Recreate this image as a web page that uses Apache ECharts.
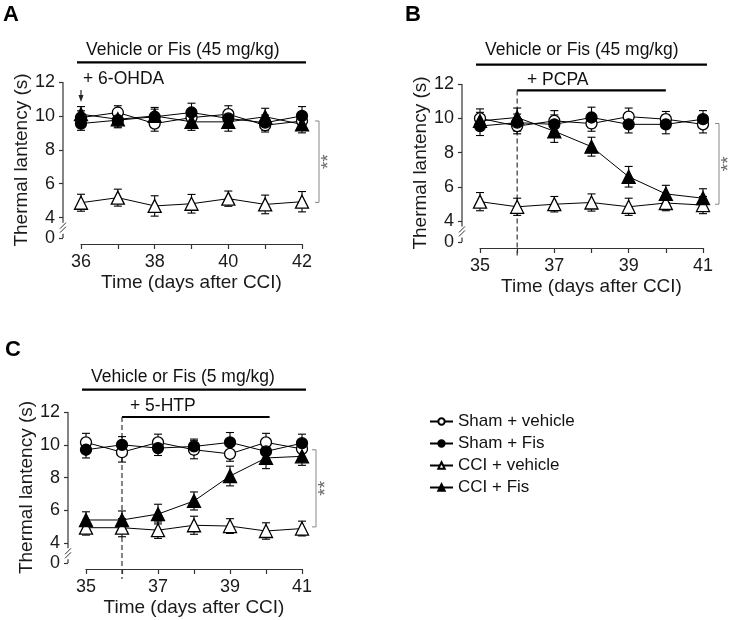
<!DOCTYPE html>
<html><head><meta charset="utf-8">
<script src="https://cdn.jsdelivr.net/npm/echarts@6/dist/echarts.min.js"></script>
<style>html,body{margin:0;padding:0;background:#fff}#c{width:735px;height:620px}</style>
</head><body><div id="c"></div>
<script>
// ---------- DATA ----------
const groupNames = ['Sham + vehicle', 'Sham + Fis', 'CCI + vehicle', 'CCI + Fis'];
const daysA = [36, 37, 38, 39, 40, 41, 42];
const daysBC = [35, 36, 37, 38, 39, 40, 41];
const xLabelsA = [36, 38, 40, 42];
const xLabelsBC = [35, 37, 39, 41];
const yTickLabels = [0, 4, 6, 8, 10, 12];

// Panel A
const shamVehA = [9.9, 10.2, 9.55, 9.9, 10.1, 9.45, 9.7];
const shamFisA = [9.55, 9.75, 9.95, 10.2, 9.85, 9.6, 10.0];
const cciVehA  = [4.88, 5.18, 4.69, 4.82, 5.12, 4.78, 4.94];
const cciFisA  = [10.1, 9.8, 10.0, 9.65, 9.65, 9.95, 9.5];
const shamVehAErr = [0.4, 0.4, 0.45, 0.45, 0.5, 0.4, 0.45];
const shamFisAErr = [0.4, 0.45, 0.45, 0.55, 0.5, 0.45, 0.55];
const cciVehAErr  = [0.5, 0.5, 0.6, 0.55, 0.45, 0.55, 0.6];
const cciFisAErr  = [0.45, 0.45, 0.5, 0.5, 0.55, 0.5, 0.5];

// Panel B
const shamVehB = [10.0, 9.55, 9.85, 9.7, 10.1, 9.95, 9.65];
const shamFisB = [9.55, 9.75, 9.65, 10.05, 9.65, 9.65, 9.95];
const cciVehB  = [5.15, 4.85, 5.0, 5.1, 4.85, 5.07, 4.95];
const cciFisB  = [9.85, 10.05, 9.25, 8.35, 6.6, 5.6, 5.35];
const shamVehBErr = [0.55, 0.45, 0.6, 0.45, 0.5, 0.45, 0.5];
const shamFisBErr = [0.55, 0.5, 0.55, 0.6, 0.5, 0.55, 0.5];
const cciVehBErr  = [0.53, 0.5, 0.45, 0.5, 0.5, 0.45, 0.5];
const cciFisBErr  = [0.5, 0.55, 0.65, 0.55, 0.6, 0.5, 0.55];

// Panel C
const shamVehC = [10.15, 9.55, 10.15, 9.7, 9.45, 10.15, 9.75];
const shamFisC = [9.7, 10.0, 9.8, 9.9, 10.15, 9.6, 10.1];
const cciVehC  = [4.95, 4.95, 4.8, 5.1, 5.05, 4.75, 4.9];
const cciFisC  = [5.42, 5.42, 5.78, 6.58, 8.1, 9.2, 9.3];
const shamVehCErr = [0.55, 0.6, 0.5, 0.55, 0.45, 0.55, 0.55];
const shamFisCErr = [0.5, 0.5, 0.45, 0.45, 0.6, 0.5, 0.55];
const cciVehCErr  = [0.45, 0.55, 0.5, 0.55, 0.45, 0.5, 0.45];
const cciFisCErr  = [0.5, 0.55, 0.6, 0.55, 0.6, 0.65, 0.55];

// Annotation values (data units)
const bracketA = [9.7, 4.9];
const bracketB = [9.7, 5.0];
const bracketC = [9.7, 5.0];
const treatStartDay = 36;
const treatEndB = 40;
const treatEndC = 40.1;

// ---------- STYLE / LAYOUT ----------
const FONT = '"Liberation Sans", Arial, Helvetica, sans-serif';
const Y_ZERO = 2.8; // axis position where the broken scale shows "0"
const Y_OFF = 18;
const panels = [
  { days: daysA, xLabels: xLabelsA, grid: { left: 81, right: 433, top: 82, bottom: 382 }, nameGap: 31,
    series: [[shamVehA, shamVehAErr], [shamFisA, shamFisAErr], [cciVehA, cciVehAErr], [cciFisA, cciFisAErr]] },
  { days: daysBC, xLabels: xLabelsBC, grid: { left: 480, right: 32, top: 84, bottom: 378 }, nameGap: 28,
    series: [[shamVehB, shamVehBErr], [shamFisB, shamFisBErr], [cciVehB, cciVehBErr], [cciFisB, cciFisBErr]] },
  { days: daysBC, xLabels: xLabelsBC, grid: { left: 86, right: 433, top: 412, bottom: 57 }, nameGap: 31,
    series: [[shamVehC, shamVehCErr], [shamFisC, shamFisCErr], [cciVehC, cciVehCErr], [cciFisC, cciFisCErr]] }
];
const symbolStyles = [
  { symbol: 'circle', size: 11, fill: '#fff' },
  { symbol: 'circle', size: 11, fill: '#000' },
  { symbol: 'triangle', size: 13, fill: '#fff' },
  { symbol: 'triangle', size: 13, fill: '#000' }
];

const chart = echarts.init(document.getElementById('c'), null, { renderer: 'canvas' });

const grids = [], xAxes = [], yAxes = [], lineSeries = [], errSeries = [];
panels.forEach((p, pi) => {
  grids.push(Object.assign({ containLabel: false }, p.grid));
  xAxes.push({
    type: 'value', gridIndex: pi, min: p.days[0], max: p.days[p.days.length - 1], interval: 1,
    offset: 6,
    axisLine: { show: true, onZero: false, lineStyle: { color: '#333', width: 1.2 } },
    axisTick: { show: true, length: 5, lineStyle: { color: '#333', width: 1.2 } },
    axisLabel: { customValues: p.xLabels, margin: 9, fontSize: 18, color: '#1a1a1a', fontFamily: FONT },
    splitLine: { show: false },
    name: 'Time (days after CCI)', nameLocation: 'middle', nameGap: 29,
    nameTextStyle: { fontSize: 19, color: '#1a1a1a', fontFamily: FONT }
  });
  const yVals = yTickLabels.map(v => v === 0 ? Y_ZERO : v);
  yAxes.push({
    type: 'value', gridIndex: pi, min: Y_ZERO, max: 12, offset: Y_OFF,
    axisLine: { show: false },
    axisTick: { show: true, customValues: yVals, length: 4, lineStyle: { color: '#333', width: 1.2 } },
    axisLabel: { customValues: yVals, margin: 8, fontSize: 18, color: '#1a1a1a', fontFamily: FONT,
      formatter: v => (v < 3 ? '0' : String(Math.round(v))) },
    splitLine: { show: false },
    name: 'Thermal lantency (s)', nameLocation: 'middle', nameGap: p.nameGap, nameRotate: 90,
    nameTextStyle: { fontSize: 19, color: '#1a1a1a', fontFamily: FONT }
  });
  p.series.forEach((s, gi) => {
    const st = symbolStyles[gi];
    lineSeries.push({
      type: 'line', name: groupNames[gi], xAxisIndex: pi, yAxisIndex: pi,
      data: p.days.map((d, i) => [d, s[0][i]]),
      symbol: st.symbol, symbolSize: st.size, showAllSymbol: true,
      lineStyle: { color: '#000', width: 1 },
      itemStyle: { color: st.fill, borderColor: '#000', borderWidth: 1.3 },
      z: 3, silent: true, animation: false
    });
    errSeries.push({
      type: 'custom', xAxisIndex: pi, yAxisIndex: pi, z: 2, silent: true, animation: false,
      data: p.days.map((d, i) => [d, s[0][i] - s[1][i], s[0][i] + s[1][i]]),
      encode: { x: 0, y: [1, 2] },
      renderItem: (params, api) => {
        const x = api.value(0);
        const lo = api.coord([x, api.value(1)]);
        const hi = api.coord([x, api.value(2)]);
        const w = 4;
        const ls = { stroke: '#000', lineWidth: 1.1 };
        return { type: 'group', children: [
          { type: 'line', shape: { x1: lo[0], y1: lo[1], x2: hi[0], y2: hi[1] }, style: ls },
          { type: 'line', shape: { x1: hi[0] - w, y1: hi[1], x2: hi[0] + w, y2: hi[1] }, style: ls },
          { type: 'line', shape: { x1: lo[0] - w, y1: lo[1], x2: lo[0] + w, y2: lo[1] }, style: ls }
        ] };
      }
    });
  });
});

chart.setOption({
  animation: false,
  backgroundColor: '#fff',
  textStyle: { fontFamily: FONT },
  grid: grids, xAxis: xAxes, yAxis: yAxes,
  legend: {
    data: groupNames, orient: 'vertical', left: 424, top: 408, padding: 5,
    itemWidth: 23, itemHeight: 8, itemGap: 5,
    textStyle: { fontSize: 17, color: '#111', fontFamily: FONT },
    selectedMode: false
  },
  series: lineSeries.concat(errSeries)
});

// ---------- ANNOTATIONS (positions derived from the axes) ----------
function px(pi, x, y) { return chart.convertToPixel({ gridIndex: pi }, [x, y]); }
function txt(x, y, text, size, opts) {
  return Object.assign({ type: 'text', x: x, y: y, silent: true, style: Object.assign({
    text: text, fontSize: size, fontFamily: FONT, fill: '#111',
    align: 'left', textAlign: 'left', verticalAlign: 'middle', textVerticalAlign: 'middle'
  }, (opts && opts.style) || {}) }, (opts && opts.el) || {});
}
function ln(x1, y1, x2, y2, w, color, dash) {
  return { type: 'line', silent: true, shape: { x1, y1, x2, y2 },
    style: { stroke: color || '#000', lineWidth: w || 1, lineDash: dash || null } };
}
const g = [];
const ann = [
  { label: 'A', labelPos: [3, 15], vehText: 'Vehicle or Fis (45 mg/kg)', vehDy: -32, lineDy: -19.7,
    subText: '+ 6-OHDA', subDy: -3, subX: 83, bracket: bracketA, brDx: 17 },
  { label: 'B', labelPos: [405, 15], vehText: 'Vehicle or Fis (45 mg/kg)', vehDy: -34.3, lineDy: -19.3,
    subText: '+ PCPA', subDy: -4.3, subX: 527, subLineDy: 6.4, subEnd: treatEndB, bracket: bracketB, brDx: 16 },
  { label: 'C', labelPos: [5, 350], vehText: 'Vehicle or Fis (5 mg/kg)', vehDy: -34.7, lineDy: -22.4,
    subText: '+ 5-HTP', subDy: -5.7, subX: 130, subLineDy: 5, subEnd: treatEndC, bracket: bracketC, brDx: 14 }
];
ann.forEach((a, pi) => {
  const p = panels[pi];
  const x0 = p.days[0], x1 = p.days[p.days.length - 1];
  const tl = px(pi, x0, 12), br = px(pi, x1, Y_ZERO);
  const top = tl[1], left = tl[0], right = br[0], bottom = br[1];
  // panel letter
  g.push(txt(a.labelPos[0], a.labelPos[1], a.label, 22, { style: { fontWeight: 'bold', fill: '#000' } }));
  // treatment text + bar
  g.push(txt(left + 5, top + a.vehDy, a.vehText, 17.5));
  g.push(ln(left - 4, top + a.lineDy, right + 4, top + a.lineDy, 2.2));
  g.push(txt(a.subX, top + a.subDy, a.subText, 17.5));
  if (pi === 0) {
    const ax = px(0, treatStartDay, 12)[0];
    g.push(ln(ax, top + 8, ax, top + 16, 1.2, '#222'));
    g.push({ type: 'polygon', silent: true, shape: { points: [[ax - 2.5, top + 13], [ax + 2.5, top + 13], [ax, top + 20]] },
      style: { fill: '#222' } });
  } else {
    const sx = px(pi, treatStartDay, 12)[0];
    const ex = px(pi, a.subEnd, 12)[0];
    g.push(ln(sx, top + a.subLineDy, ex, top + a.subLineDy, 2.2));
    g.push(ln(sx, top + a.subLineDy, sx, bottom + 16, 1.2, '#333', [5, 3]));
  }
  // y axis line with break
  const yx = left - Y_OFF;
  const y4 = px(pi, x0, 4)[1];
  g.push(ln(yx, top, yx, y4 + 5, 1.2, '#333'));
  g.push(ln(yx, y4 + 16, yx, bottom, 1.2, '#333'));
  g.push(ln(yx - 3, y4 + 11, yx + 3, y4 + 5, 1, '#333'));
  g.push(ln(yx - 3, y4 + 15, yx + 3, y4 + 9, 1, '#333'));
  // significance bracket
  const bx = right + a.brDx;
  const bt = px(pi, x1, a.bracket[0])[1], bb = px(pi, x1, a.bracket[1])[1];
  g.push({ type: 'polyline', silent: true, shape: { points: [[bx - 4, bt], [bx, bt], [bx, bb], [bx - 4, bb]] },
    style: { stroke: '#888', lineWidth: 1, fill: null } });
  g.push(txt(bx + 10, (bt + bb) / 2, '**', 19, { style: { fill: '#666', align: 'center', textAlign: 'center' },
    el: { rotation: Math.PI / 2 } }));
});
chart.setOption({ graphic: { elements: g } });
</script>
</body></html>
